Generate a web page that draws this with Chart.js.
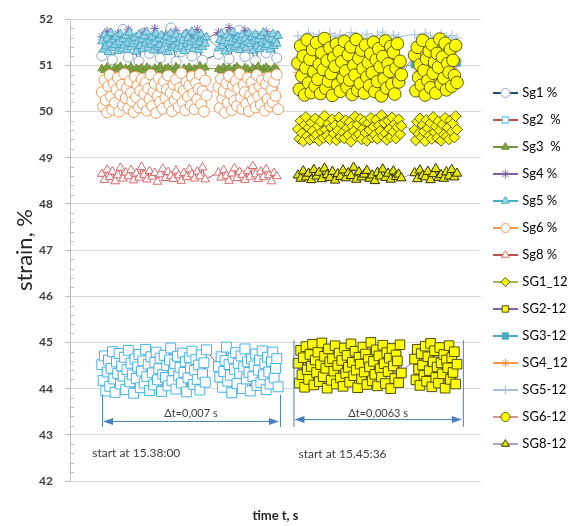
<!DOCTYPE html>
<html>
<head>
<meta charset="utf-8">
<script src="https://cdn.jsdelivr.net/npm/chart.js@4/dist/chart.umd.min.js"></script>
<style>
  body { margin: 0; background: #fff; }
  canvas { display: block; }
</style>
</head>
<body>
<canvas id="strainChart" width="569" height="526"></canvas>
<script>
// sample times, ms (first run 15.38:00, second run 15.45:36)
const t1d = [1.20,1.25,1.30,1.35,1.40,1.45,1.50,1.55,1.60,1.65,1.70,1.75,1.80,1.85,1.90,1.95,
  2.00,2.05,2.10,2.15,2.20,2.25,2.30,2.35,2.40,2.45,2.50,2.55,2.60,2.65,2.70,2.75,2.80,2.85,2.90,2.95,
  3.00,3.05,3.10,3.15,3.20,3.25,3.30,3.35,3.40,3.45,3.50,3.55,3.60,3.65,3.70,3.75,3.80,3.85,3.90,3.95,
  4.00,4.05,4.10,4.15,4.20,4.25,4.30,4.35,4.40,4.45,4.50,4.55,4.60,4.65,4.70,4.75,4.80,4.85,4.90,4.95,
  5.00,5.05,5.10,5.15,
  5.60,5.65,5.70,5.75,5.80,5.85,5.90,5.95,
  6.00,6.05,6.10,6.15,6.20,6.25,6.30,6.35,6.40,6.45,6.50,6.55,6.60,6.65,6.70,6.75,6.80,6.85,6.90,6.95,
  7.00,7.05,7.10,7.15,7.20,7.25,7.30,7.35,7.40,7.45,7.50,7.55,7.60,7.65,7.70,7.75,7.80,7.85]
const t1m = [1.2,1.3,1.4,1.5,1.6,1.7,1.8,1.9,2.0,2.1,2.2,2.3,2.4,2.5,2.6,2.7,2.8,2.9,3.0,3.1,
  3.2,3.3,3.4,3.5,3.6,3.7,3.8,3.9,4.0,4.1,4.2,4.3,4.4,4.5,4.6,4.7,4.8,4.9,5.0,5.1,
  5.6,5.7,5.8,5.9,6.0,6.1,6.2,6.3,6.4,6.5,6.6,6.7,6.8,6.9,7.0,7.1,7.2,7.3,7.4,7.5,7.6,7.7,7.8]
const t1s = [1.2,1.4,1.6,1.8,2.0,2.2,2.4,2.6,2.8,3.0,3.2,3.4,3.6,3.8,4.0,4.2,4.4,4.6,4.8,5.0,
  5.6,5.8,6.0,6.2,6.4,6.6,6.8,7.0,7.2,7.4,7.6,7.8]
const t2d = [8.60,8.65,8.70,8.75,8.80,8.85,8.90,8.95,
  9.00,9.05,9.10,9.15,9.20,9.25,9.30,9.35,9.40,9.45,9.50,9.55,9.60,9.65,9.70,9.75,9.80,9.85,9.90,9.95,
  10.00,10.05,10.10,10.15,10.20,10.25,10.30,10.35,10.40,10.45,10.50,10.55,10.60,10.65,10.70,10.75,10.80,10.85,10.90,10.95,
  11.00,11.05,11.10,11.15,11.20,11.25,11.30,11.35,11.40,11.45,11.50,11.55,11.60,11.65,11.70,11.75,11.80,11.85,11.90,11.95,
  12.00,12.05,12.10,12.15,12.20,12.25,12.30,12.35,12.40,12.45,12.50,
  13.00,13.05,13.10,13.15,13.20,13.25,13.30,13.35,13.40,13.45,13.50,13.55,13.60,13.65,13.70,13.75,13.80,13.85,13.90,13.95,
  14.00,14.05,14.10,14.15,14.20,14.25,14.30,14.35,14.40,14.45,14.50,14.55,14.60]
const t2m = [8.6,8.7,8.8,8.9,9.0,9.1,9.2,9.3,9.4,9.5,9.6,9.7,9.8,9.9,10.0,10.1,10.2,10.3,10.4,10.5,
  10.6,10.7,10.8,10.9,11.0,11.1,11.2,11.3,11.4,11.5,11.6,11.7,11.8,11.9,12.0,12.1,12.2,12.3,12.4,12.5,
  13.0,13.1,13.2,13.3,13.4,13.5,13.6,13.7,13.8,13.9,14.0,14.1,14.2,14.3,14.4,14.5,14.6]
const t2s = [8.6,8.8,9.0,9.2,9.4,9.6,9.8,10.0,10.2,10.4,10.6,10.8,11.0,11.2,11.4,11.6,11.8,12.0,12.2,12.4,
  13.0,13.2,13.4,13.6,13.8,14.0,14.2,14.4,14.6]

// strain, % - first run
const sg1 = [51.21,51.63,51.12,51.48,51.78,51.18,51.35,51.09,51.70,51.26,
  51.55,51.15,51.42,51.81,51.08,51.30,51.66,51.20,51.51,51.11,
  51.24,51.68,51.14,51.45,51.76,51.19,51.38,51.10,51.60,51.27,51.52,51.16]
const sg2 = [44.52,44.18,44.71,43.95,44.36,44.62,44.05,44.44,44.80,44.21,
  43.92,44.58,44.33,44.76,44.10,44.49,44.27,44.68,43.98,44.41,
  44.83,44.15,44.55,44.30,43.90,44.64,44.22,44.47,44.74,44.02,
  44.38,44.60,44.12,44.85,44.26,44.53,43.96,44.69,44.34,44.08,
  44.57,44.79,44.19,44.43,44.66,43.94,44.31,44.72,44.24,44.50,
  44.06,44.62,44.88,44.17,44.39,44.54,43.99,44.70,44.28,44.46,
  44.12,44.77,44.35,44.59,43.93,44.23,44.67,44.45,44.81,44.09,
  44.40,44.63,44.20,44.51,43.97,44.73,44.32,44.56,44.14,44.84,
  44.48,44.25,44.69,44.03,44.37,44.61,44.90,44.16,44.52,44.29,
  43.91,44.66,44.42,44.78,44.11,44.55,44.33,44.71,44.00,44.47,
  44.86,44.21,44.58,44.35,43.95,44.64,44.26,44.49,44.75,44.07,
  44.40,44.62,44.13,44.82,44.30,44.54,43.98,44.68,44.36,44.10,
  44.59,44.79,44.23,44.44,44.65,44.04]
const sg3 = [50.93,50.89,50.96,50.91,50.87,50.95,50.92,50.98,50.88,50.94,
  50.90,50.97,50.86,50.93,50.91,50.95,50.89,50.96,50.92,50.88,
  50.94,50.90,50.98,50.87,50.93,50.95,50.91,50.89,50.97,50.92,
  50.86,50.94,50.90,50.96,50.88,50.93,50.91,50.99,50.87,50.95,
  50.92,50.89,50.96,50.90,50.94,50.87,50.93,50.97,50.91,50.88,
  50.95,50.92,50.86,50.94,50.90,50.98,50.89,50.93,50.96,50.91,
  50.88,50.95,50.92]
const sg4 = [51.62,51.74,51.55,51.69,51.48,51.77,51.58,51.66,51.72,51.52,
  51.80,51.60,51.67,51.50,51.75,51.57,51.70,51.63,51.78,51.54,
  51.71,51.59,51.82,51.64,51.53,51.76,51.61,51.68,51.49,51.73,51.56,51.66]
const sg5 = [51.52,51.34,51.66,51.41,51.58,51.29,51.47,51.70,51.38,51.55,
  51.44,51.62,51.31,51.50,51.68,51.36,51.57,51.43,51.64,51.33,
  51.49,51.71,51.39,51.54,51.46,51.60,51.30,51.51,51.67,51.42,
  51.56,51.35,51.63,51.48,51.72,51.37,51.53,51.45,51.61,51.32,
  51.50,51.69,51.40,51.58,51.44,51.65,51.34,51.55,51.47,51.62,
  51.29,51.52,51.70,51.38,51.57,51.43,51.66,51.36,51.49,51.60,
  51.41,51.54,51.31,51.68,51.46,51.59,51.39,51.51,51.73,51.35,
  51.56,51.44,51.63,51.33,51.50,51.67,51.40,51.58,51.47,51.61,
  51.37,51.55,51.69,51.42,51.53,51.30,51.64,51.48,51.59,51.36,
  51.51,51.72,51.40,51.57,51.45,51.62,51.33,51.54,51.66,51.43,
  51.58,51.38,51.50,51.70,51.46,51.61,51.32,51.52,51.67,51.41,
  51.56,51.35,51.63,51.49,51.71,51.39,51.53,51.44,51.60,51.34,
  51.57,51.68,51.42,51.55,51.47,51.64]
const sg6 = [50.42,50.11,50.68,50.25,49.98,50.55,50.79,50.33,50.04,50.61,
  50.19,50.47,50.73,50.00,50.36,50.58,50.14,50.82,50.29,50.51,
  50.07,50.66,50.40,50.22,49.99,50.75,50.31,50.57,50.09,50.45,
  50.70,50.17,50.38,50.63,50.02,50.50,50.27,50.80,50.12,50.43,
  50.60,49.97,50.34,50.72,50.21,50.53,50.06,50.65,50.30,50.48,
  50.78,50.15,50.41,50.01,50.59,50.24,50.69,50.37,50.10,50.52,
  50.83,50.20,50.46,50.03,50.64,50.32,50.56,50.13,50.76,50.39,
  50.05,50.62,50.26,50.49,50.81,50.16,50.44,50.00,50.67,50.35,
  50.54,50.08,50.71,50.28,50.45,49.98,50.61,50.19,50.77,50.39,
  50.03,50.56,50.23,50.66,50.12,50.50,50.82,50.31,50.06,50.58,
  50.42,50.17,50.73,50.01,50.36,50.63,50.25,50.48,50.09,50.79,
  50.33,50.55,50.14,50.68,50.40,50.02,50.60,50.27,50.74,50.11,
  50.47,50.20,50.65,50.34,50.80,50.05]
const sg8 = [48.65,48.52,48.74,48.58,48.70,48.49,48.62,48.78,48.55,48.68,
  48.60,48.73,48.51,48.66,48.57,48.80,48.63,48.53,48.71,48.59,
  48.67,48.48,48.64,48.76,48.56,48.69,48.61,48.54,48.72,48.62,
  48.50,48.67,48.58,48.75,48.64,48.55,48.70,48.60,48.79,48.53,
  48.68,48.57,48.73,48.61,48.50,48.66,48.77,48.56,48.69,48.63,
  48.52,48.71,48.59,48.82,48.64,48.54,48.70,48.58,48.75,48.62,
  48.49,48.67,48.60]

// strain, % - second run
const sg1_12 = [49.62,49.41,49.80,49.53,49.36,49.71,49.88,49.47,49.65,49.39,
  49.76,49.58,49.44,49.85,49.50,49.69,49.37,49.78,49.56,49.43,
  49.91,49.61,49.48,49.74,49.40,49.66,49.83,49.52,49.70,49.38,
  49.59,49.87,49.45,49.73,49.55,49.42,49.81,49.64,49.49,49.77,
  49.35,49.68,49.57,49.89,49.46,49.72,49.51,49.84,49.40,49.63,
  49.79,49.54,49.37,49.75,49.60,49.86,49.44,49.67,49.50,49.82,
  49.41,49.70,49.58,49.92,49.47,49.76,49.53,49.39,49.80,49.62,
  49.45,49.87,49.56,49.73,49.42,49.66,49.83,49.51,49.69,
  49.60,49.38,49.78,49.52,49.85,49.45,49.71,49.57,49.36,49.82,
  49.64,49.48,49.75,49.41,49.88,49.55,49.68,49.43,49.79,49.59,
  49.37,49.72,49.50,49.86,49.46,49.65,49.40,49.81,49.56,49.74,
  49.44,49.90,49.61]
const sg2_12 = [44.55,44.12,44.83,44.30,44.67,44.03,44.91,44.41,44.20,44.74,
  44.48,44.96,44.08,44.62,44.35,44.79,44.15,44.52,44.99,44.26,
  44.70,44.44,44.01,44.86,44.58,44.18,44.65,44.38,44.93,44.10,
  44.50,44.77,44.23,44.61,44.05,44.88,44.33,44.72,44.46,44.14,
  44.97,44.57,44.28,44.81,44.40,44.02,44.68,44.53,44.21,44.90,
  44.36,44.75,44.09,44.63,44.47,45.00,44.17,44.59,44.31,44.84,
  44.06,44.71,44.43,44.25,44.94,44.54,44.11,44.78,44.37,44.66,
  44.00,44.87,44.49,44.22,44.73,44.60,44.13,44.95,44.34,
  44.64,44.19,44.85,44.42,44.07,44.76,44.51,44.29,44.92,44.16,
  44.69,44.39,44.98,44.04,44.58,44.82,44.24,44.47,44.12,44.89,
  44.56,44.32,44.74,44.01,44.62,44.45,44.93,44.20,44.67,44.35,
  44.80,44.10,44.53]
const sg3_12 = [51.00,50.95,51.04,50.98,51.07,50.93,51.02,50.97,51.05,50.99,
  50.94,51.03,50.96,51.08,51.01,50.92,51.06,50.98,51.03,50.95,
  51.02,50.96,51.05,50.99,50.93,51.04,51.00,50.97,51.06]
const sg4_12 = [50.85,51.30,50.62,51.12,50.95,51.42,50.70,51.20,50.55,51.05,
  51.35,50.78,51.15,50.60,51.25,50.90,51.45,50.68,51.08,50.82,
  51.18,50.65,51.38,50.88,51.02,50.58,51.28,50.75,51.10]
const sg5_12 = [51.64,51.58,51.70,51.61,51.67,51.56,51.69,51.62,51.66,51.59,
  51.71,51.63,51.57,51.68,51.60,51.65,51.72,51.58,51.66,51.62,
  51.67,51.60,51.70,51.63,51.57,51.68,51.61,51.65,51.59]
const sg6_12 = [51.05,50.48,51.42,50.77,51.20,50.36,50.95,51.55,50.62,51.13,
  50.41,51.34,50.86,50.55,51.49,50.70,51.02,50.39,51.27,50.91,
  51.58,50.50,51.10,50.66,51.38,50.82,50.35,51.17,50.98,51.46,
  50.58,51.30,50.44,51.08,50.73,51.52,50.88,50.53,51.23,50.68,
  51.40,50.37,51.00,50.79,51.56,50.46,51.15,50.61,51.33,50.93,
  50.40,51.44,50.75,51.06,50.56,51.25,50.84,51.50,50.43,51.12,
  50.65,51.36,50.97,50.34,51.19,50.71,51.53,50.51,51.03,50.87,
  51.41,50.59,51.28,50.38,50.94,51.47,50.64,51.09,50.80,
  51.22,50.45,51.39,50.74,51.01,50.57,51.54,50.89,50.36,51.14,
  50.67,51.31,50.52,51.45,50.83,51.07,50.40,51.26,50.96,51.57,
  50.60,51.18,50.72,51.48,50.47,51.04,50.85,51.35,50.55,51.11,
  50.78,51.43,50.63]
const sg8_12 = [48.62,48.55,48.71,48.58,48.66,48.52,48.74,48.60,48.68,48.54,
  48.77,48.63,48.57,48.70,48.51,48.65,48.59,48.73,48.56,48.67,
  48.61,48.79,48.53,48.69,48.58,48.64,48.72,48.55,48.62,48.50,
  48.68,48.60,48.75,48.57,48.66,48.53,48.71,48.59,48.64,48.56,
  48.67,48.54,48.73,48.61,48.58,48.70,48.52,48.65,48.76,48.57,
  48.63,48.55,48.69,48.60,48.74,48.58,48.66]

const seriesNames = ['Sg1 %', 'Sg2  %', 'Sg3  %', 'Sg4 %', 'Sg5 %', 'Sg6 %', 'Sg8 %',
  'SG1_12', 'SG2-12', 'SG3-12', 'SG4_12', 'SG5-12', 'SG6-12', 'SG8-12']
const seriesTimes = [t1s, t1d, t1m, t1s, t1d, t1d, t1m, t2d, t2d, t2s, t2s, t2s, t2d, t2m]
const seriesValues = [sg1, sg2, sg3, sg4, sg5, sg6, sg8,
  sg1_12, sg2_12, sg3_12, sg4_12, sg5_12, sg6_12, sg8_12]

// look of each series: line colour, marker shape, size, fill, edge
const looks = [
  { line: '#1F4E79', style: 'circle', r: 5, fill: '#ffffff', edge: '#8EA9C8' },
  { line: '#C0504D', style: 'rect', r: 7, fill: '#ffffff', edge: '#45B4E6' },
  { line: '#77933C', style: 'triangle', r: 4.5, fill: '#7FA343', edge: '#6B8E35' },
  { line: '#7F5FA8', style: 'star', r: 4.5, fill: '#7F5FA8', edge: '#7F5FA8' },
  { line: '#4BACC6', style: 'triangle', r: 5, fill: '#9DD3E6', edge: '#4BACC6' },
  { line: '#F79646', style: 'circle', r: 5.5, fill: '#ffffff', edge: '#EE9A5A' },
  { line: '#C0504D', style: 'triangle', r: 5, fill: '#ffffff', edge: '#D96B6B' },
  { line: '#9BBB59', style: 'rectRot', r: 5.5, fill: '#FFFF00', edge: '#5A5A10' },
  { line: '#8064A2', style: 'rect', r: 6.8, fill: '#FFFF00', edge: '#4D4D00' },
  { line: '#4BACC6', style: 'rect', r: 5, fill: '#4BACC6', edge: '#4BACC6' },
  { line: '#F79646', style: 'star', r: 5, fill: '#F79646', edge: '#F79646' },
  { line: '#A6C2DE', style: 'cross', r: 5, fill: '#A6C2DE', edge: '#A6C2DE' },
  { line: '#D99694', style: 'circle', r: 6.3, fill: '#FFFF00', edge: '#5A5A10' },
  { line: '#B3A2C7', style: 'triangle', r: 5.5, fill: '#E8E800', edge: '#303000' },
]

Chart.defaults.font.family = 'Lato'
Chart.defaults.color = '#404040'

function pairUp(times, values) {
  const out = []
  for (let i = 0; i < values.length && i < times.length; i++) {
    out.push({ x: times[i], y: values[i] })
  }
  return out
}

function legendIcon(look) {
  const c = document.createElement('canvas')
  c.width = 25
  c.height = 14
  const g = c.getContext('2d')
  g.strokeStyle = look.line
  g.lineWidth = 2
  g.beginPath()
  g.moveTo(0, 7)
  g.lineTo(25, 7)
  g.stroke()
  g.fillStyle = look.fill
  g.strokeStyle = look.edge
  g.lineWidth = 1
  if (Chart.helpers && Chart.helpers.drawPoint) {
    Chart.helpers.drawPoint(g, { pointStyle: look.style, radius: 4.5, borderWidth: 1, rotation: 0 }, 12.5, 7)
  } else {
    g.beginPath()
    g.arc(12.5, 7, 4, 0, Math.PI * 2)
    g.fill()
    g.stroke()
  }
  return c
}

const datasets = seriesNames.map((name, i) => ({
  label: name,
  data: pairUp(seriesTimes[i], seriesValues[i]),
  showLine: true,
  borderColor: looks[i].line,
  borderWidth: 1,
  pointStyle: looks[i].style,
  pointRadius: looks[i].r,
  pointBackgroundColor: looks[i].fill,
  pointBorderColor: looks[i].edge,
  pointBorderWidth: 1,
  order: seriesNames.length - i, // later series on top, like the original
}))

const isWhole = (v) => Math.abs(v - Math.round(v)) < 1e-6

// minor tick marks sit inside the plot, as in the original
const minorTicks = {
  id: 'minorTicks',
  afterDraw(chart) {
    const { ctx, chartArea } = chart
    const y = chart.scales.y
    ctx.save()
    ctx.strokeStyle = '#bfbfbf'
    ctx.lineWidth = 1
    ctx.beginPath()
    y.ticks.forEach((t) => {
      if (isWhole(t.value)) return
      const py = Math.round(y.getPixelForValue(t.value)) + 0.5
      ctx.moveTo(chartArea.left, py)
      ctx.lineTo(chartArea.left + 4, py)
    })
    ctx.stroke()
    ctx.restore()
  },
}

// dimension arrows and run start notes
const notes = {
  id: 'notes',
  afterDatasetsDraw(chart) {
    const { ctx } = chart
    const x = chart.scales.x
    const y = chart.scales.y
    const spans = [
      { from: 1.21, to: 7.92, top: 43.87, bottom: 43.17, arrow: 43.29, text: 'Δt=0,007 s', textY: 43.47 },
      { from: 8.43, to: 14.82, top: 45.05, bottom: 43.17, arrow: 43.33, text: 'Δt=0,0063 s', textY: 43.47 },
    ]
    ctx.save()
    spans.forEach((s) => {
      const x0 = x.getPixelForValue(s.from)
      const x1 = x.getPixelForValue(s.to)
      const ya = y.getPixelForValue(s.arrow)
      ctx.strokeStyle = '#4A7EBB'
      ctx.fillStyle = '#4A7EBB'
      ctx.lineWidth = 1
      ctx.beginPath()
      ctx.moveTo(x0 + 0.5, y.getPixelForValue(s.top))
      ctx.lineTo(x0 + 0.5, y.getPixelForValue(s.bottom))
      ctx.moveTo(x1 + 0.5, y.getPixelForValue(s.top))
      ctx.lineTo(x1 + 0.5, y.getPixelForValue(s.bottom))
      ctx.moveTo(x0 + 8, ya)
      ctx.lineTo(x1 - 8, ya)
      ctx.stroke()
      ctx.beginPath()
      ctx.moveTo(x0 + 1, ya)
      ctx.lineTo(x0 + 11, ya - 3.5)
      ctx.lineTo(x0 + 11, ya + 3.5)
      ctx.closePath()
      ctx.moveTo(x1 - 1, ya)
      ctx.lineTo(x1 - 11, ya - 3.5)
      ctx.lineTo(x1 - 11, ya + 3.5)
      ctx.closePath()
      ctx.fill()
      ctx.fillStyle = '#404040'
      ctx.font = '11px Lato'
      ctx.textAlign = 'center'
      ctx.textBaseline = 'middle'
      ctx.fillText(s.text, (x0 + x1) / 2, y.getPixelForValue(s.textY))
    })
    ctx.fillStyle = '#404040'
    ctx.font = '12px Lato'
    ctx.textAlign = 'left'
    ctx.textBaseline = 'middle'
    ctx.fillText('start at 15.38:00', x.getPixelForValue(0.84), y.getPixelForValue(42.6))
    ctx.fillText('start at 15.45:36', x.getPixelForValue(8.62), y.getPixelForValue(42.58))
    ctx.restore()
  },
}

const icons = looks.map(legendIcon)

const config = {
  type: 'scatter',
  data: { datasets: datasets },
  options: {
    responsive: false,
    animation: false,
    layout: { padding: { left: 12, top: 13, bottom: 2, right: -8.5 } },
    plugins: {
      tooltip: { enabled: false },
      legend: {
        position: 'right',
        align: 'center',
        labels: {
          usePointStyle: true,
          pointStyleWidth: 21,
          padding: 14,
          color: '#404040',
          font: { size: 13 },
          generateLabels: (chart) => chart.data.datasets.map((d, i) => ({
            text: d.label,
            pointStyle: icons[i],
            fillStyle: 'rgba(0,0,0,0)',
            strokeStyle: 'rgba(0,0,0,0)',
            lineWidth: 0,
            hidden: false,
            datasetIndex: i,
          })),
        },
      },
    },
    scales: {
      x: {
        type: 'linear',
        min: 0,
        max: 15.5,
        ticks: { display: false },
        grid: { display: false, drawTicks: false },
        border: { display: false },
        title: { display: true, text: 'time t, s', color: '#262626', font: { size: 13, weight: 'bold' }, padding: 0 },
        afterFit: (s) => { s.height = 43 },
      },
      y: {
        min: 42,
        max: 52,
        ticks: {
          stepSize: 0.2,
          autoSkip: false,
          padding: 12,
          color: '#404040',
          font: { size: 12, weight: 'bold' },
          callback: (v) => (isWhole(v) ? Math.round(v) : ''),
        },
        grid: {
          color: (c) => (isWhole(c.tick.value) ? '#d9d9d9' : 'rgba(0,0,0,0)'),
          tickColor: (c) => (isWhole(c.tick.value) ? '#bfbfbf' : 'rgba(0,0,0,0)'),
          tickLength: 5,
        },
        border: { color: '#bfbfbf' },
        title: { display: true, text: 'strain, %', color: '#262626', font: { size: 22 }, padding: 0 },
        afterFit: (s) => { s.width = 58 },
      },
    },
  },
  plugins: [notes, minorTicks],
}

const myChart = new Chart(document.getElementById('strainChart'), config)
</script>
</body>
</html>
